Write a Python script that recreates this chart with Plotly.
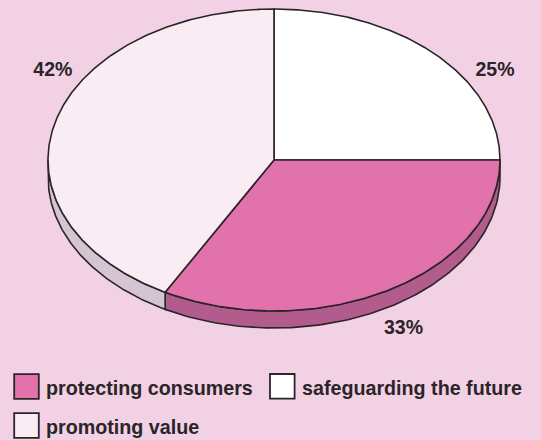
import numpy as np
import plotly.graph_objects as go

# Slice values, clockwise from twelve o'clock
categories = ["safeguarding the future", "protecting consumers", "promoting value"]
shares = [25, 33, 42]
share_labels = ["25%", "33%", "42%"]

top_colors = ["#ffffff", "#e272ac", "#f9edf3"]
side_colors = ["#ffffff", "#b15c8c", "#d5c4d1"]
INK = "#2b2428"
BACKGROUND = "#f2d1e5"

# Pie geometry in page pixels
CX, CY, RX, RY, DEPTH = 274, 160, 226, 151, 17
LINE = 1.6
label_pos = [(495, 71), (403.5, 329.5), (52.8, 71)]
swatch_pos = [(282.3, 386.3), (26.5, 386.5), (26.5, 425.5)]
legend_text_pos = [(302, 390), (46, 390.5), (46, 429.5)]


def rim(a0, a1, dy=0.0, n=120):
    t = np.linspace(a0, a1, n)
    return CX + RX * np.cos(t), CY + dy + RY * np.sin(t)


fig = go.Figure()

# Turn shares into angles measured clockwise from the top of the pie
edges = -np.pi / 2 + 2 * np.pi * np.cumsum([0] + shares) / sum(shares)

# Side wall: only the part of the rim facing the viewer is visible
for i in range(len(shares)):
    a0, a1 = max(edges[i], 0.0), min(edges[i + 1], np.pi)
    if a0 >= a1:
        continue
    x_top, y_top = rim(a0, a1)
    x_low, y_low = rim(a1, a0, DEPTH)
    fig.add_trace(go.Scatter(
        x=np.r_[x_top, x_low, x_top[0]], y=np.r_[y_top, y_low, y_top[0]],
        mode="lines", fill="toself", fillcolor=side_colors[i],
        line=dict(color=INK, width=LINE), hoverinfo="skip", showlegend=False,
    ))

# Top face wedges
for i in range(len(shares)):
    x_arc, y_arc = rim(edges[i], edges[i + 1], n=240)
    fig.add_trace(go.Scatter(
        x=np.r_[CX, x_arc, CX], y=np.r_[CY, y_arc, CY],
        mode="lines", fill="toself", fillcolor=top_colors[i],
        line=dict(color=INK, width=LINE), name=categories[i], showlegend=False,
    ))

# Percent labels
fig.add_trace(go.Scatter(
    x=[p[0] for p in label_pos], y=[p[1] for p in label_pos],
    text=share_labels, mode="text",
    textfont=dict(family="Liberation Sans", size=19.5, color=INK, weight="bold"),
    textposition="middle center", hoverinfo="skip", showlegend=False,
))

# Hand-placed legend: two entries on the first row, one on the second
for i in range(len(categories)):
    fig.add_trace(go.Scatter(
        x=[swatch_pos[i][0]], y=[swatch_pos[i][1]], mode="markers",
        marker=dict(symbol="square", size=24.6, color=top_colors[i],
                    line=dict(color=INK, width=1.8)),
        hoverinfo="skip", showlegend=False,
    ))
    fig.add_trace(go.Scatter(
        x=[legend_text_pos[i][0]], y=[legend_text_pos[i][1]],
        text=[categories[i]], mode="text", textposition="middle right",
        textfont=dict(family="Liberation Sans", size=19.7, color=INK, weight="bold"),
        hoverinfo="skip", showlegend=False,
    ))

fig.update_layout(
    width=541, height=440,
    margin=dict(l=0, r=0, t=0, b=0),
    paper_bgcolor=BACKGROUND, plot_bgcolor=BACKGROUND,
    xaxis=dict(range=[0, 541], visible=False, fixedrange=True),
    yaxis=dict(range=[440, 0], visible=False, fixedrange=True),
    showlegend=False,
)

fig.write_html("out.html", config={"displayModeBar": False})
